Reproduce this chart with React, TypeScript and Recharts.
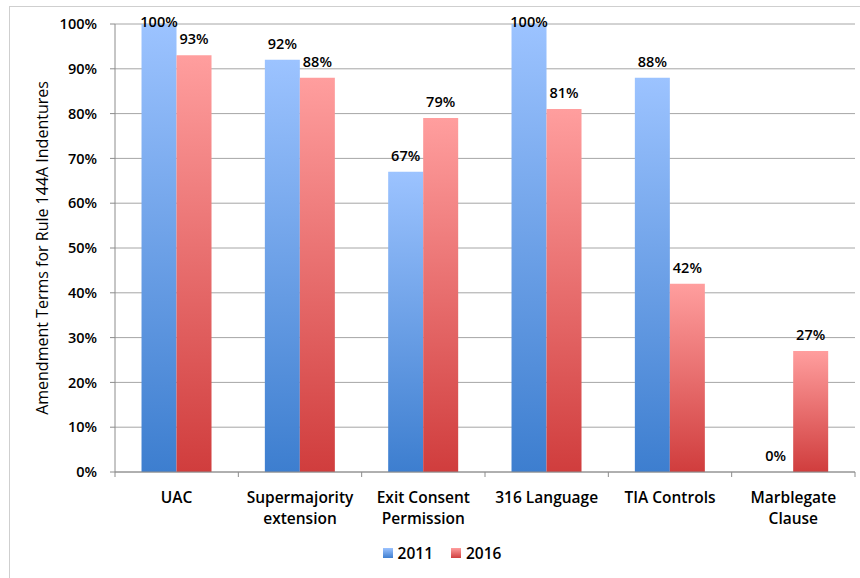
import { Bar, BarChart, CartesianGrid, Label, LabelList, Legend, XAxis, YAxis } from "recharts";

const categories = [
  "UAC",
  "Supermajority extension",
  "Exit Consent Permission",
  "316 Language",
  "TIA Controls",
  "Marblegate Clause",
];
const categoryLines: Record<string, string[]> = {
  UAC: ["UAC"],
  "Supermajority extension": ["Supermajority", "extension"],
  "Exit Consent Permission": ["Exit Consent", "Permission"],
  "316 Language": ["316 Language"],
  "TIA Controls": ["TIA Controls"],
  "Marblegate Clause": ["Marblegate", "Clause"],
};
const values2011 = [100, 92, 67, 100, 88, 0];
const values2016 = [93, 88, 79, 81, 42, 27];
const yTicks = [0, 10, 20, 30, 40, 50, 60, 70, 80, 90, 100];
const seriesNames = ["2011", "2016"];

const data = categories.map((name, i) => ({
  name,
  y2011: values2011[i],
  y2016: values2016[i],
}));

const WIDTH = 860;
const HEIGHT = 578;
const MARGIN = { top: 24, right: 5, left: 60, bottom: 46 };
const Y_AXIS_W = 55;
const X_AXIS_H = 60;
const PLOT_W = WIDTH - MARGIN.left - Y_AXIS_W - MARGIN.right;
const PLOT_MID_Y = MARGIN.top + (HEIGHT - MARGIN.top - MARGIN.bottom - X_AXIS_H) / 2;
const HALF_BAND = PLOT_W / categories.length / 2;
const FONT = "'Open Sans', Lato, sans-serif";

const CategoryTick = (props: any) => {
  const { x, y, payload, index } = props;
  const lines = categoryLines[payload.value] || [payload.value];
  const axisY = y - 7;
  return (
    <g>
      <line x1={x - HALF_BAND} x2={x - HALF_BAND} y1={axisY} y2={axisY + 5} stroke="#8c8c8c" />
      {index === categories.length - 1 && (
        <line x1={x + HALF_BAND} x2={x + HALF_BAND} y1={axisY} y2={axisY + 5} stroke="#8c8c8c" />
      )}
      {lines.map((ln, i) => (
        <text
          key={i}
          x={x}
          y={y + 24 + i * 21}
          textAnchor="middle"
          fontFamily={FONT}
          fontWeight={600}
          fontSize={15.5}
          fill="#000"
        >
          {ln}
        </text>
      ))}
    </g>
  );
};

const ValueLabel = (props: any) => {
  const { x, y, width, value } = props;
  const baseline = Math.max(y - 11, 27);
  return (
    <text
      x={x + width / 2}
      y={baseline}
      textAnchor="middle"
      fontFamily={FONT}
      fontWeight={600}
      fontSize={14.5}
      fill="#000"
    >
      {value}%
    </text>
  );
};

const AxisTitle = () => (
  <text
    x={42}
    y={PLOT_MID_Y}
    transform={`rotate(-90 42 ${PLOT_MID_Y})`}
    textAnchor="middle"
    dominantBaseline="central"
    fontFamily={FONT}
    fontSize={16}
    fill="#000"
  >
    Amendment Terms for Rule 144A Indentures
  </text>
);

const LegendContent = () => (
  <div
    style={{
      display: "flex",
      justifyContent: "center",
      gap: 18,
      paddingLeft: 24,
      fontFamily: FONT,
      fontWeight: 600,
      fontSize: 15.5,
    }}
  >
    {seriesNames.map((s, i) => (
      <div key={s} style={{ display: "flex", alignItems: "center", gap: 5 }}>
        <span
          style={{
            width: 10,
            height: 10,
            display: "inline-block",
            background:
              i === 0
                ? "linear-gradient(#9cc3ff, #3f7fd0)"
                : "linear-gradient(#ff9e9e, #d03f3f)",
          }}
        />
        <span>{s}</span>
      </div>
    ))}
  </div>
);

export default function App() {
  return (
    <div style={{ position: "absolute", left: 0, top: 0, width: WIDTH, height: HEIGHT, background: "#fff" }}>
      <div
        style={{
          position: "absolute",
          left: 9,
          top: 6,
          width: WIDTH,
          height: HEIGHT,
          border: "1px solid #cfcfcf",
        }}
      />
      <BarChart
        width={WIDTH}
        height={HEIGHT}
        data={data}
        margin={MARGIN}
        barCategoryGap="21.5%"
        barGap={0}
        style={{ position: "absolute", left: 0, top: 0 }}
      >
        <defs>
          <linearGradient id="grad2011" x1="0" y1="0" x2="0" y2="1">
            <stop offset="0%" stopColor="#9cc3ff" />
            <stop offset="100%" stopColor="#3d7ecf" />
          </linearGradient>
          <linearGradient id="grad2016" x1="0" y1="0" x2="0" y2="1">
            <stop offset="0%" stopColor="#ff9e9e" />
            <stop offset="100%" stopColor="#d03d3d" />
          </linearGradient>
        </defs>
        <CartesianGrid vertical={false} stroke="#a6a6a6" />
        <XAxis
          dataKey="name"
          height={X_AXIS_H}
          stroke="#8c8c8c"
          tickLine={false}
          tickSize={5}
          interval={0}
          tick={<CategoryTick />}
        />
        <YAxis
          width={Y_AXIS_W}
          domain={[0, 100]}
          ticks={yTicks}
          interval={0}
          stroke="#8c8c8c"
          tickSize={5}
          tickMargin={13}
          tickFormatter={(v) => `${v}%`}
          tick={{ fill: "#000", fontFamily: FONT, fontWeight: 600, fontSize: 14.5 }}
        >
          <Label content={<AxisTitle />} />
        </YAxis>
        <Legend
          layout="horizontal"
          verticalAlign="middle"
          align="center"
          content={<LegendContent />}
          wrapperStyle={{ top: 542, left: 0, width: WIDTH }}
        />
        <Bar dataKey="y2011" name="2011" fill="url(#grad2011)" minPointSize={0.01} isAnimationActive={false}>
          <LabelList dataKey="y2011" content={<ValueLabel />} />
        </Bar>
        <Bar dataKey="y2016" name="2016" fill="url(#grad2016)" minPointSize={0.01} isAnimationActive={false}>
          <LabelList dataKey="y2016" content={<ValueLabel />} />
        </Bar>
      </BarChart>
    </div>
  );
}
